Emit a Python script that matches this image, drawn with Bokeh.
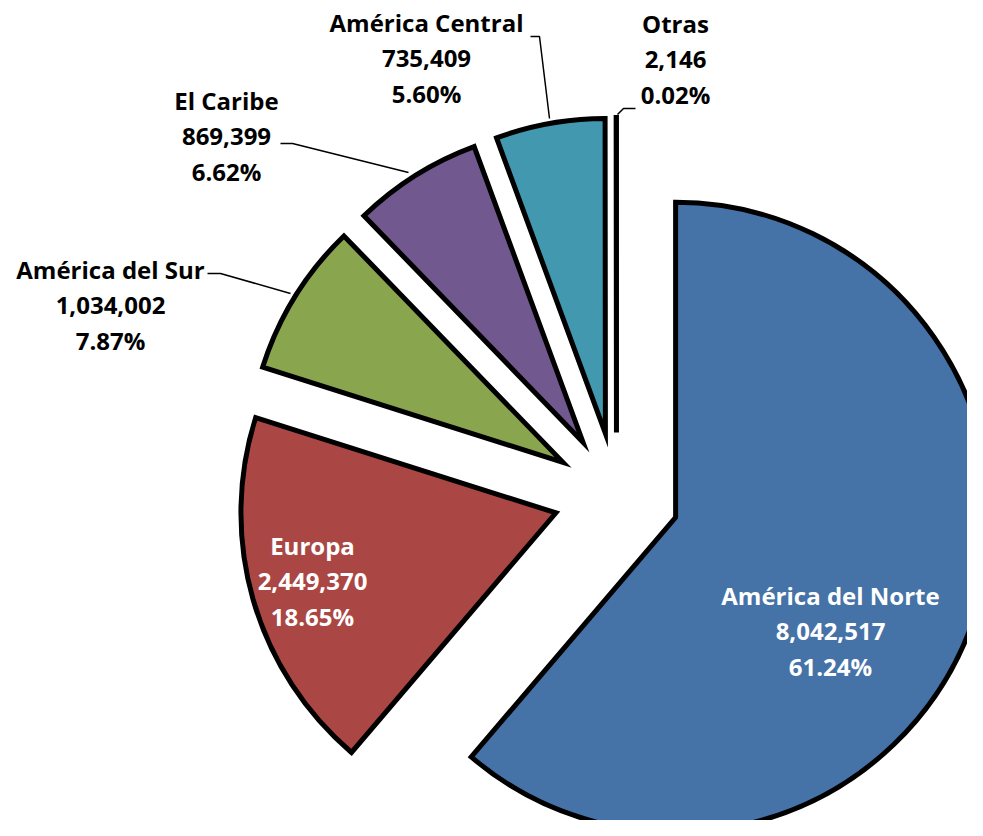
import math
from bokeh.plotting import figure
from bokeh.models import Range1d
from bokeh.core.properties import value
from bokeh.embed import file_html
from bokeh.resources import INLINE

# ---- data ----
regions = ["América del Norte", "Europa", "América del Sur", "El Caribe", "América Central", "Otras"]
visitors = [8042517, 2449370, 1034002, 869399, 735409, 2146]
colors = ["#4572A7", "#AA4643", "#89A54E", "#71588F", "#4198AF", "#DB843D"]

# ---- layout (reference pixel coordinates, y down) ----
W, H = 967, 820
CX, CY = 616, 495          # pie centre
R = 315                    # radius
EXPLODE = 63               # explosion offset

def Y(y):
    return H - y

p = figure(width=W, height=H, output_backend="svg", toolbar_location=None,
           x_range=Range1d(0, W), y_range=Range1d(0, H), min_border=0)
p.axis.visible = False
p.grid.visible = False
p.outline_line_color = None
p.background_fill_color = "white"
p.border_fill_color = "white"

total = sum(visitors)
cum = 0.0
xs, ys, starts, ends = [], [], [], []
for v in visitors:
    a0 = cum / total * 2 * math.pi          # clockwise from top
    cum += v
    a1 = cum / total * 2 * math.pi
    mid = (a0 + a1) / 2
    xs.append(CX + EXPLODE * math.sin(mid))
    ys.append(Y(CY) + EXPLODE * math.cos(mid))
    starts.append(math.pi / 2 - a0)
    ends.append(math.pi / 2 - a1)

p.wedge(x=xs, y=ys, radius=R, start_angle=starts, end_angle=ends, direction="clock",
        fill_color=colors, line_color="black", line_width=5, line_join="miter")

# ---- leader lines ----
leaders = [
    [(530, 36), (539, 36), (549, 118)],
    [(635, 108), (623, 108), (617, 114)],
    [(280, 143), (292, 143), (408, 172)],
    [(207, 273), (220, 273), (290, 293)],
]
p.multi_line(xs=[[pt[0] for pt in l] for l in leaders],
             ys=[[Y(pt[1]) for pt in l] for l in leaders],
             line_color="black", line_width=1.5)

# ---- labels ----
label_pos = {
    "América del Norte": (830, 595, "white"),
    "Europa": (312, 545, "white"),
    "América del Sur": (110, 269, "black"),
    "El Caribe": (226, 100, "black"),
    "América Central": (426, 22, "black"),
    "Otras": (675, 23, "black"),
}
STEP = 35.7
for name, v in zip(regions, visitors):
    lx, ly, col = label_pos[name]
    lines = [name, f"{v:,}", f"{v / total * 100:.2f}%"]
    p.text(x=[lx] * 3, y=[Y(ly + i * STEP) for i in range(3)], text=lines,
           text_align="center", text_baseline="middle",
           text_font=value("Open Sans"), text_font_style="bold",
           text_font_size="24px", text_color=col)

open("out.html", "w").write(file_html(p, INLINE))
